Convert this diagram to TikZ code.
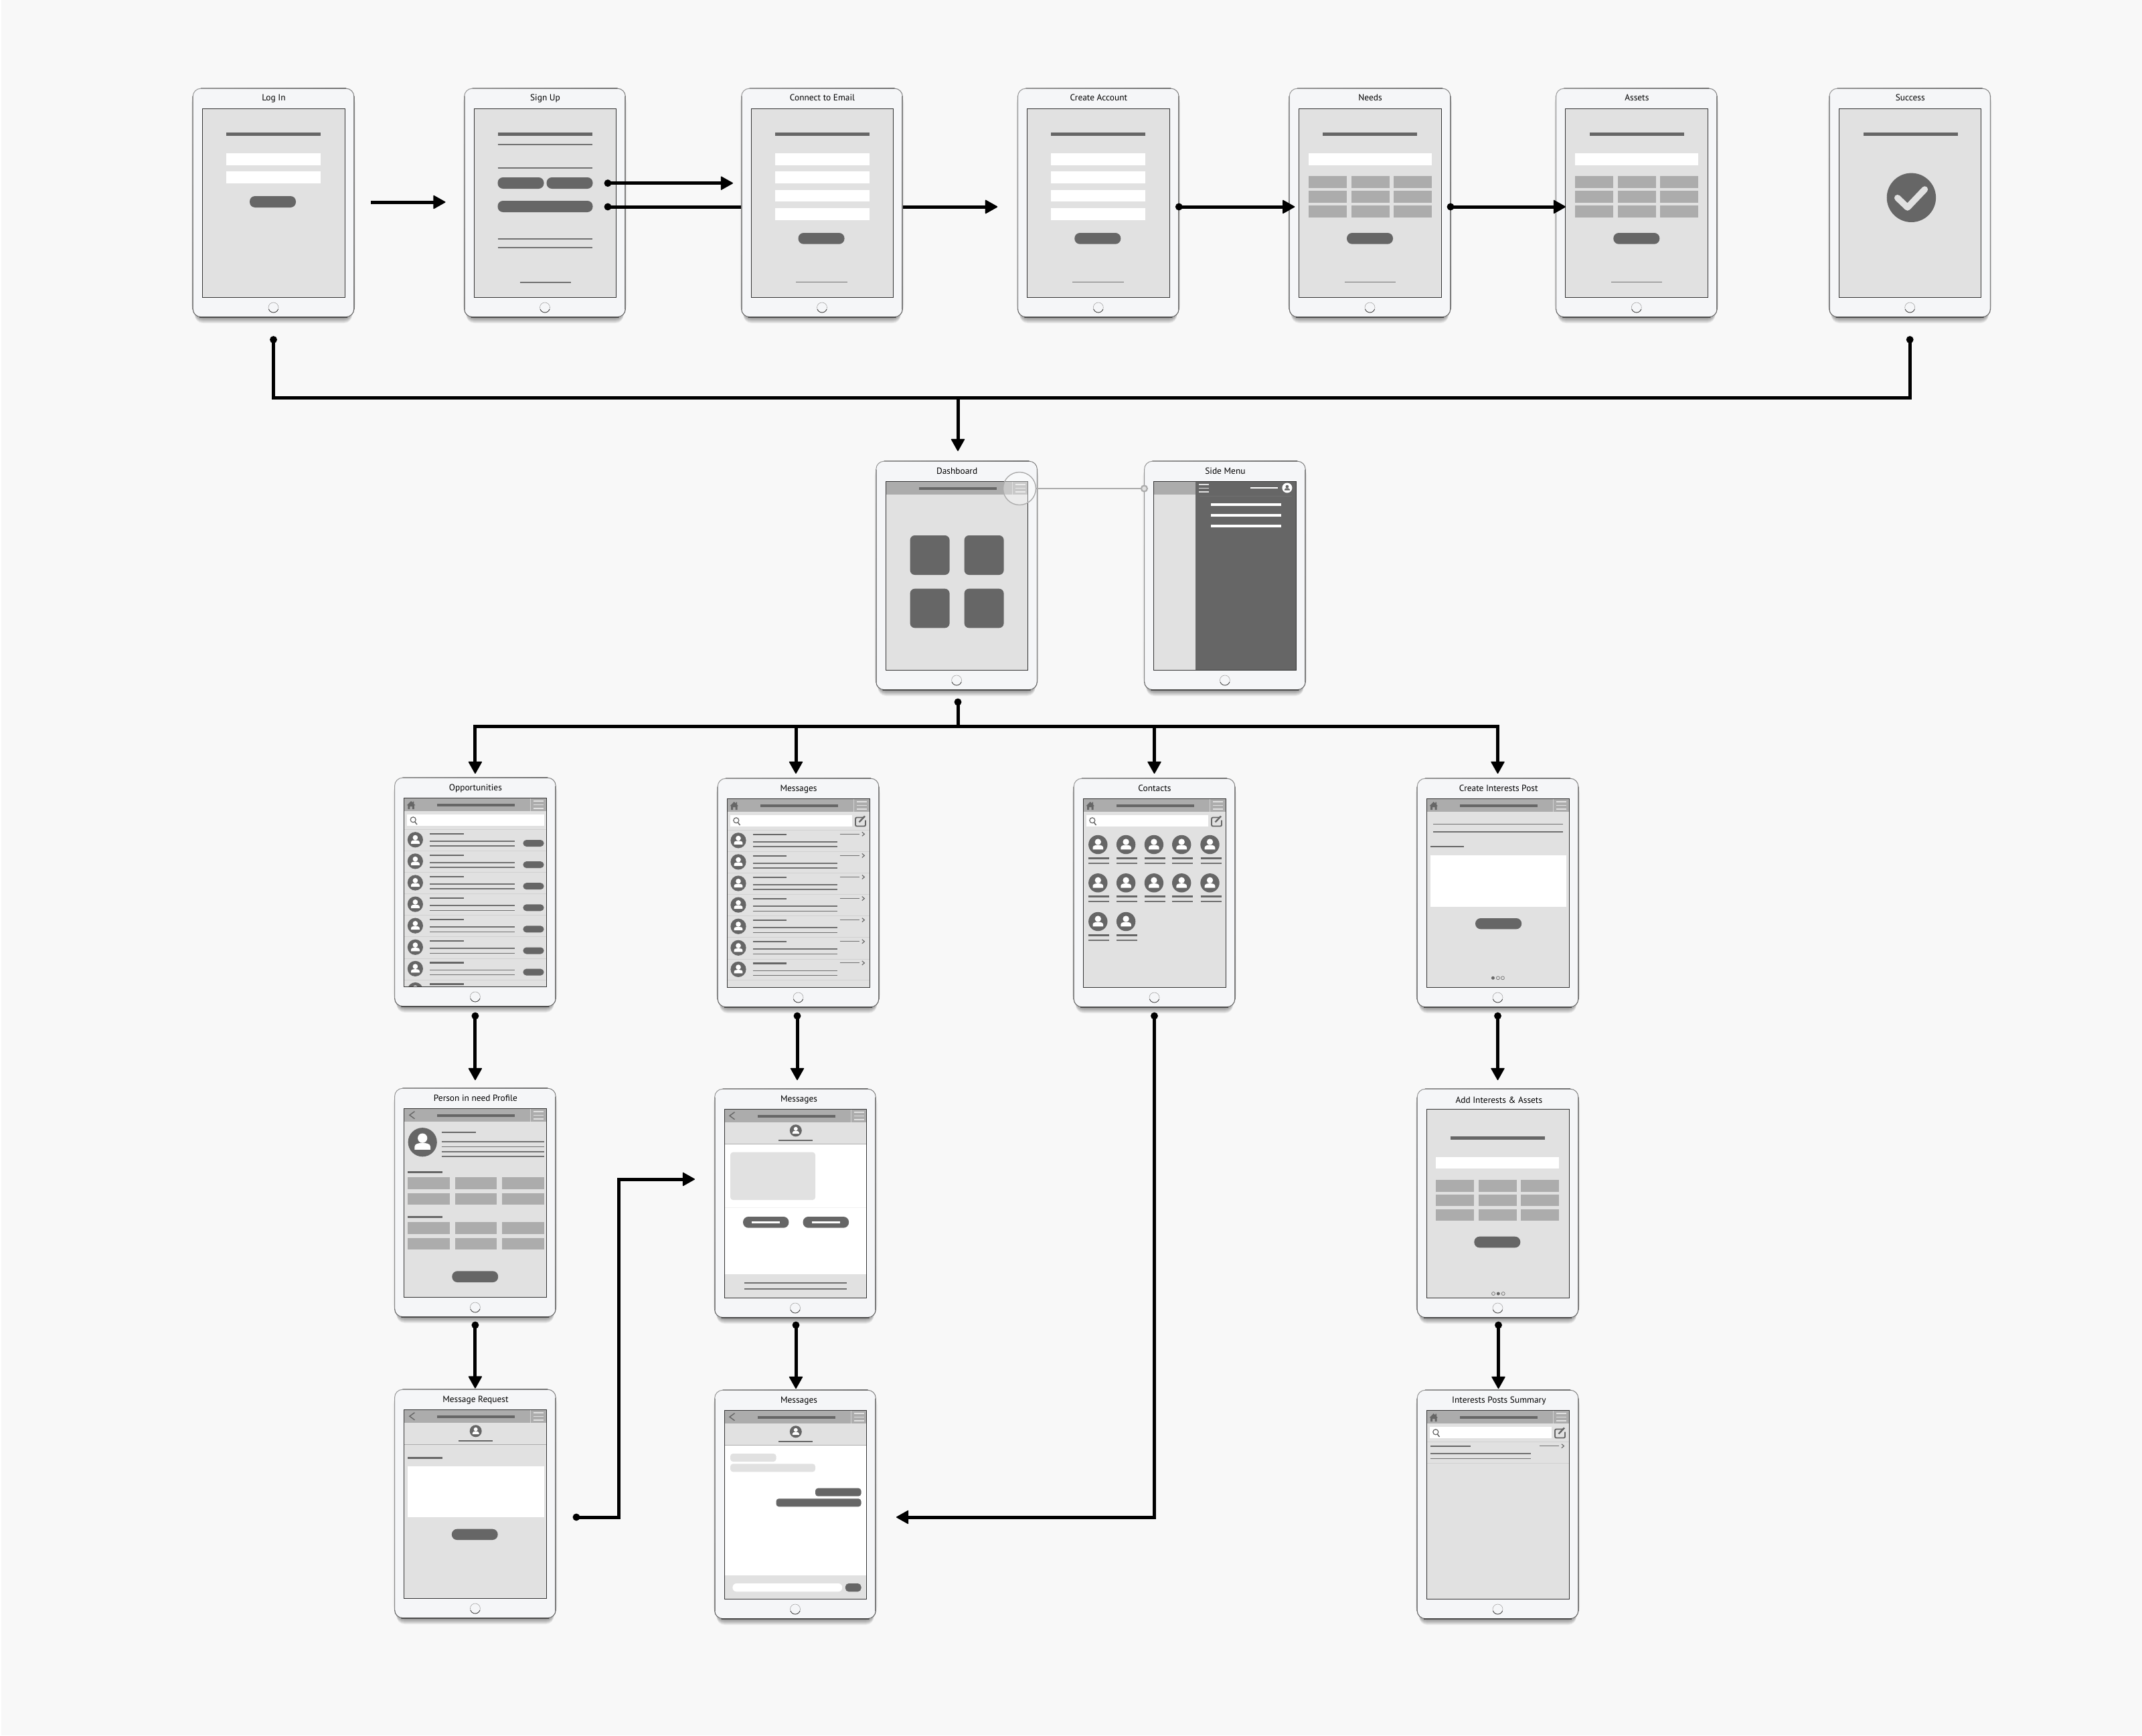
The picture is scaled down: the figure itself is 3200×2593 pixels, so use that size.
\documentclass[tikz,border=0pt]{standalone}
\usepackage{fontspec}
\setmainfont{PT Sans}
\usetikzlibrary{arrows.meta,calc}
\definecolor{bgc}{HTML}{F8F8F8}
\definecolor{dkc}{HTML}{666666}
\definecolor{midc}{HTML}{ACACAC}
\definecolor{ltc}{HTML}{E1E1E1}
\definecolor{bodyc}{HTML}{F5F6F8}
\definecolor{thinc}{HTML}{707070}
\tikzset{
  devbody/.style={draw=black!12,line width=.8pt,fill=bodyc,rounded corners=12pt,minimum width=241pt,minimum height=342pt,inner sep=0pt,outer sep=0pt},
  devtitle/.style={anchor=base,inner sep=0pt,font=\fontsize{13.4}{15}\selectfont,text=black},
  headtip/.tip={Triangle[length=19pt,width=21pt,line width=1.5pt,round]},
  dottip/.tip={Circle[length=10.5pt,width=10.5pt,sep=-5.25pt]},
  flow/.style={line width=5pt,black,-headtip},
  flowdot/.style={line width=5pt,black,dottip-headtip},
  dotboth/.style={line width=5pt,black,dottip-dottip},
  dotstart/.style={line width=5pt,black,dottip-},
  thick line/.style={line width=2.4pt,dkc},
  thin line/.style={line width=1.6pt,thinc},
  lens/.style={circle,draw=midc,line width=1.4pt,fill=white,fill opacity=.35,minimum size=49pt,inner sep=0pt,outer sep=0pt},
  lensdot/.style={circle,draw=midc,line width=2.2pt,fill=ltc,minimum size=9pt,inner sep=0pt,outer sep=0pt},
  lensline/.style={midc,line width=1.6pt}
}
\def\wtx{121}
% device: name, left, top, title, baseline, content
\newcommand\wdevice[6]{%
\begin{scope}[shift={(#2,#3)}]
  \foreach \k in {1,...,10}{\fill[black,opacity=.05,rounded corners=12pt] (3,12) rectangle (238,341+\k);}
  \fill[black,opacity=.06,rounded corners=12pt] (-2,10) rectangle (243,336);
  \node[devbody] (#1) at (120.5,171) {};
  \shade[top color=black!42,middle color=black!13,bottom color=black!48] (-.4,12) rectangle (.8,330);
  \shade[top color=black!48,middle color=black!20,bottom color=black!52] (240.2,12) rectangle (241.4,330);
  \shade[left color=black!42,middle color=black!5,right color=black!55] (12,-.4) rectangle (229,.7);
  \draw[black!42,line width=.9pt,rounded corners=12pt] (.2,12.5)--(.2,.2)--(12.5,.2);
  \draw[black!52,line width=.9pt,rounded corners=12pt] (228.5,.2)--(240.8,.2)--(240.8,12.5);
  \draw[black!60,line width=1.1pt,rounded corners=12pt] (.2,329.5)--(.2,341.7)--(240.8,341.7)--(240.8,329.5);
  \shade[left color=black!70,middle color=black!30,right color=black!70] (10,341.2) rectangle (231,342.4);
  \node[devtitle] (#1-title) at (\wtx,#5) {#4};
  \fill[ltc] (14.5,30) rectangle (227,312);
  \begin{scope}
    \clip (14.5,30) rectangle (227,312);
    #6
  \end{scope}
  \draw[black!80,line width=.9pt] (14.5,30) rectangle (227,312);
  \draw[black!35,line width=.6pt] (120.5,327.5) circle (7.5);
  \draw[black!75,line width=.8pt] (120.5,327.5) ++(20:7.5) arc (20:160:7.5);
\end{scope}}
\newcommand\wbx[5]{\fill[#5] (#1,#2) rectangle (#3,#4);}
\newcommand\wpl[4]{\fill[dkc,rounded corners=8pt] (#1,#2) rectangle (#3,#4);}
\newcommand\wplsm[4]{\fill[dkc,rounded corners=5pt] (#1,#2) rectangle (#3,#4);}
\newcommand\wthick[3]{\draw[thick line] (#1,#3)--(#2,#3);}
\newcommand\wthin[3]{\draw[thin line] (#1,#3)--(#2,#3);}
\newcommand\wavatar[3]{\begin{scope}[shift={(#1,#2)},scale=#3]
  \fill[dkc] (0,0) circle (1);
  \fill[white] (0,-.28) circle (.33);
  \fill[white] (-.55,.52)--(-.55,.32) .. controls (-.55,.1) and (-.25,.05) .. (0,.05) .. controls (.25,.05) and (.55,.1) .. (.55,.32)--(.55,.52)--cycle;
\end{scope}}
\newcommand\whdr{%
  \wbx{14.5}{30}{227}{50.3}{midc}
  \wbx{64}{38.7}{180}{42.7}{dkc}
  \draw[black!18,line width=.7pt] (203.4,30)--(203.4,50.3);
  \foreach \h in {35,40.3,45.7}{\draw[ltc,line width=1.6pt] (208,\h)--(223,\h);}
}
\newcommand\wmenuicon{\foreach \h in {35,40.3,45.7}{\draw[ltc,line width=1.6pt] (82,\h)--(97,\h);}}
\newcommand\whome{\fill[dkc] (24.7,35)--(27.3,37.6)--(27.3,35.6)--(29,35.6)--(29,39.3)--(31,41.3)--(29.5,41.3)--(29.5,47)--(26.5,47)--(26.5,43)--(23,43)--(23,47)--(20,47)--(20,41.3)--(18.5,41.3)--cycle;}
\newcommand\wback{\draw[dkc,line width=1.4pt] (30,34.7)--(22.5,40.2)--(30,45.7);}
\newcommand\wsearch[1]{%
  \wbx{19}{55}{#1}{72.3}{white}
  \draw[dkc,line width=1.2pt] (27.8,62.8) circle (4);
  \draw[dkc,line width=1.5pt] (30.4,66)--(33.5,70);
}
\newcommand\wedit{%
  \draw[dkc,line width=1.9pt,rounded corners=2pt] (217,58.5)--(206,58.5)--(206,71.5)--(221,71.5)--(221,62.5);
  \draw[dkc,line width=2.4pt] (211.5,65.5)--(220,56.5);
}
\newcommand\wchev[1]{%
  \draw[thinc,line width=1.1pt] (182.6,#1)--(212.4,#1);
  \draw[dkc,line width=1.1pt] (215.8,#1-3)--(219.4,#1)--(215.8,#1+3);
}
\newcommand\wlistrow[1]{%
  \wthick{52.9}{103.4}{#1+6.4}
  \wthin{52.9}{179.3}{#1+17.4}
  \wthin{52.9}{179.3}{#1+24.7}
  \wavatar{31}{#1+15.5}{11.6}
  \draw[black!18,line width=.8pt] (14.5,#1)--(227,#1);
}
\newcommand\wsub{%
  \wbx{14.5}{81.8}{227}{83}{midc}
  \wavatar{121.3}{62.3}{9}
  \wthick{95.8}{146.8}{76.7}
}
\begin{document}
\begin{tikzpicture}[x=1pt,y=-1pt]
\useasboundingbox (0,0) rectangle (3200,2593);
\fill[white] (0,0) rectangle (3200,2593);
\fill[bgc] (2,0) rectangle (3200,2593);

% ------- row 1
\wdevice{login}{288}{132}{Log In}{19}{
  \wbx{50}{66}{191}{71.5}{dkc}
  \wbx{50}{97}{191}{114.5}{white}
  \wbx{50}{124}{191}{142}{white}
  \wpl{85}{161}{154}{178}
}
\wdevice{signup}{693.5}{132}{Sign Up}{19}{
  \wbx{50}{66}{191}{71.5}{dkc}
  \wthin{50}{191}{84}
  \wthin{50}{191}{119}
  \wpl{50}{133}{119}{150}
  \wpl{123}{133}{192}{150}
  \wpl{50}{168}{192}{185}
  \wthin{50}{191}{225}
  \wthin{50}{191}{238}
  \wthin{83}{159}{290}
}
\wdevice{create}{1520.3}{132}{Create Account}{19}{
  \wbx{50}{66.3}{191}{71.3}{dkc}
  \wbx{50}{97}{191}{114.7}{white}
  \wbx{50}{124}{191}{141.7}{white}
  \wbx{50}{151.7}{191}{169}{white}
  \wbx{50}{179}{191}{196.7}{white}
  \wpl{85}{216}{154}{232.7}
  \wthin{81.7}{158.3}{289.3}
}
\wdevice{needs}{1926}{132}{Needs}{19}{
  \wbx{50.3}{66.3}{191.3}{71.3}{dkc}
  \wbx{29}{97}{213}{114.7}{white}
  \foreach \a/\b in {29/86,93/149.7,156/213}{
    \wbx{\a}{131.3}{\b}{149}{midc}
    \wbx{\a}{153.3}{\b}{170.7}{midc}
    \wbx{\a}{175.3}{\b}{192.7}{midc}
  }
  \wpl{86}{216}{155}{232.7}
  \wthin{82.7}{159}{289.3}
}
\wdevice{assets}{2324.3}{132}{Assets}{19}{
  \wbx{50.3}{66.3}{191.3}{71.3}{dkc}
  \wbx{29}{97}{213}{114.7}{white}
  \foreach \a/\b in {29/86,93/149.7,156/213}{
    \wbx{\a}{131.3}{\b}{149}{midc}
    \wbx{\a}{153.3}{\b}{170.7}{midc}
    \wbx{\a}{175.3}{\b}{192.7}{midc}
  }
  \wpl{86}{216}{155}{232.7}
  \wthin{82.7}{159}{289.3}
}
\wdevice{success}{2732.7}{132}{Success}{19}{
  \wbx{51}{66.3}{192}{71.3}{dkc}
  \fill[dkc] (122.7,163.3) circle (36.7);
  \draw[ltc,line width=9.5pt,line cap=round,line join=round] (102,163.7)--(117,178)--(142.7,151);
}

% lower Sign Up connector runs under the Connect to Email device
\draw[flowdot] ([xshift=-26.5pt,yshift=-6pt]signup.east) -- ([xshift=-30.3pt,yshift=-6pt]create.west);

\wdevice{connect}{1107.5}{132}{Connect to Email}{19}{
  \wbx{50}{66.3}{191}{71.3}{dkc}
  \wbx{50}{97}{191}{114.7}{white}
  \wbx{50}{124}{191}{141.7}{white}
  \wbx{50}{151.7}{191}{169}{white}
  \wbx{50}{179}{191}{196.7}{white}
  \wpl{85}{216}{154}{232.7}
  \wthin{81.7}{158.3}{289.3}
}

% ------- row 2
\wdevice{dash}{1308.6}{689}{Dashboard}{19.3}{
  \whdr
  \foreach \a/\b in {51/110,132/191}{
    \fill[dkc,rounded corners=7pt] (\a,111) rectangle (\b,170);
    \fill[dkc,rounded corners=7pt] (\a,190.7) rectangle (\b,249.3);
  }
}
\wdevice{side}{1709.4}{689}{Side Menu}{19.3}{
  \wbx{14.5}{30}{76.2}{50.3}{midc}
  \wbx{76.2}{30}{227}{312}{dkc}
  \wmenuicon
  \draw[white,line width=2pt] (159,39.7)--(199.7,39.7);
  \fill[white] (213.5,40) circle (7.5);
  \begin{scope}[shift={(213.5,40)},scale=7]
    \fill[dkc] (0,-.28) circle (.33);
    \fill[dkc] (-.55,.52)--(-.55,.32) .. controls (-.55,.1) and (-.25,.05) .. (0,.05) .. controls (.25,.05) and (.55,.1) .. (.55,.32)--(.55,.52)--cycle;
  \end{scope}
  \draw[thinc,line width=.9pt] (82.2,52.3)--(220.4,52.3);
  \foreach \h in {64.7,81,97.3}{\wbx{99.6}{\h-2}{204.3}{\h+2}{white}}
}
\node[lens] (lensbig) at (1523,730) {};
\node[lensdot] (lensend) at (1709.4,730) {};
\draw[lensline] (lensbig) -- (lensend);

% ------- row 3
\wdevice{opp}{589.4}{1162}{Opportunities}{19.5}{
  \whdr \whome
  \wsearch{223.2}
  \foreach \i in {0,...,7}{
    \pgfmathsetmacro\s{77.3+32.1*\i}
    \wlistrow{\s}
    \ifnum\i<7 \wplsm{192}{\s+15.7}{223.2}{\s+25.7}\fi
  }
}
\wdevice{msgone}{1072}{1163}{Messages}{19.5}{
  \whdr \whome
  \wsearch{200.6}
  \wedit
  \foreach \i in {0,...,6}{
    \pgfmathsetmacro\s{77.3+32.1*\i}
    \wlistrow{\s}
    \wchev{\s+6}
  }
  \draw[black!18,line width=.8pt] (14.5,301.3)--(227,301.3);
}
\wdevice{contacts}{1604}{1163}{Contacts}{19.5}{
  \whdr \whome
  \wsearch{201}
  \wedit
  \foreach \y/\cols in {99/{36.3,78.1,119.9,161.2,203.5},156.3/{36.3,78.1,119.9,161.2,203.5},214/{36.3,78.1}}{
    \foreach \c in \cols {
      \wavatar{\c}{\y}{14.2}
      \wthick{\c-14}{\c+17}{\y+20.3}
      \wthin{\c-14}{\c+17}{\y+27.7}
    }
  }
}
\def\wtx{121.7}
\wdevice{post}{2117}{1163}{Create Interests Post}{19.5}{
  \whdr \whome
  \wthin{24.4}{218}{68.3}
  \wthin{24.4}{218}{80}
  \wthick{19.9}{70}{102}
  \wbx{19.9}{115}{223.4}{192.3}{white}
  \wpl{87}{209}{156.2}{225.3}
  \fill[dkc] (113.4,298.3) circle (2.5);
  \draw[thinc,line width=.7pt] (120.9,298.3) circle (2.5) (127.9,298.3) circle (2.5);
}

% ------- row 4
\def\wtx{121}
\wdevice{person}{589.4}{1626}{Person in need Profile}{19.5}{
  \whdr \wback
  \wavatar{41.8}{80.7}{21.6}
  \wthick{70.3}{121.3}{66}
  \foreach \h in {80,87.3,94.7,102}{\wthin{70.3}{223.2}{\h}}
  \wthick{19.8}{71.3}{125.3}
  \wthick{19.8}{71.3}{192.3}
  \foreach \a/\b in {19.8/82.6,90.6/152.9,160.5/223.2}{
    \wbx{\a}{133.3}{\b}{151}{midc}
    \wbx{\a}{156.7}{\b}{174}{midc}
    \wbx{\a}{200.3}{\b}{218}{midc}
    \wbx{\a}{223.7}{\b}{241}{midc}
  }
  \wpl{85.9}{273.3}{154.8}{290}
}
\def\wtx{126}
\wdevice{msgtwo}{1067.5}{1627}{Messages}{19}{
  \wbx{14.5}{83}{227}{276.7}{white}
  \whdr \wback
  \wsub
  \fill[ltc,rounded corners=4pt] (23.6,94.7) rectangle (150.5,166);
  \draw[black!6,line width=.8pt] (14.5,177)--(227,177);
  \wpl{42.5}{191}{110.9}{207.7}
  \wpl{132}{191}{200.6}{207.7}
  \wbx{55.7}{197.8}{97.7}{200.8}{white}
  \wbx{145.4}{197.8}{187.4}{200.8}{white}
  \wthin{44.4}{197.3}{290}
  \wthin{44.4}{197.3}{299}
}
\def\wtx{122.3}
\wdevice{addint}{2117}{1627}{Add Interests \& Assets}{21.5}{
  \wbx{49.7}{71}{190.7}{76}{dkc}
  \wbx{28.3}{101.7}{212.3}{119.3}{white}
  \foreach \a/\b in {28.3/85.3,92.3/149,155.3/212.3}{
    \wbx{\a}{136}{\b}{153.7}{midc}
    \wbx{\a}{158}{\b}{175.3}{midc}
    \wbx{\a}{180}{\b}{197.3}{midc}
  }
  \wpl{85.3}{220.7}{154.3}{237.3}
  \fill[dkc] (121.3,306) circle (2.5);
  \draw[thinc,line width=.7pt] (114,306) circle (2.5) (128.7,306) circle (2.5);
}

% ------- row 5
\def\wtx{121}
\wdevice{msgreq}{589.4}{2076}{Message Request}{19.5}{
  \whdr \wback
  \wsub
  \wthick{19.8}{71.3}{102.3}
  \wbx{19.8}{115}{223.7}{191}{white}
  \wpl{85.4}{208.7}{154.3}{225}
}
\def\wtx{126}
\wdevice{msgthree}{1067.5}{2077}{Messages}{19}{
  \wbx{14.5}{83}{227}{276.7}{white}
  \whdr \wback
  \wsub
  \fill[ltc,rounded corners=4pt] (23.6,95) rectangle (92,107);
  \fill[ltc,rounded corners=4pt] (23.6,110.3) rectangle (150.5,122.3);
  \fill[dkc,rounded corners=4pt] (150.5,146.7) rectangle (219,158.7);
  \fill[dkc,rounded corners=4pt] (92,162.3) rectangle (219,174.3);
  \fill[white,rounded corners=6pt] (26.9,289) rectangle (190.7,301.3);
  \fill[dkc,rounded corners=5pt] (195.4,289) rectangle (219,301.3);
}
\def\wtx{122.3}
\wdevice{summary}{2117}{2077}{Interests Posts Summary}{19}{
  \whdr \whome
  \wsearch{201.3}
  \wedit
  \draw[black!18,line width=.8pt] (14.5,77)--(227,77) (14.5,109.3)--(227,109.3);
  \wthick{20}{80}{84}
  \wthin{20}{170.3}{95}
  \wthin{20}{170.3}{102.3}
  \wchev{83.7}
}

% ------- connectors
\draw[flow] ([xshift=25pt,yshift=1pt]login.east) -- ([xshift=-28pt,yshift=1pt]signup.west);
\draw[flowdot] ([xshift=-26.5pt,yshift=29.3pt]signup.east) -- ([xshift=-12.5pt,yshift=29.3pt]connect.west);
\draw[flow] ([xshift=1.5pt,yshift=-6pt]connect.east) -- ([xshift=-30.3pt,yshift=-6pt]create.west);
\draw[flowdot] ([yshift=-6pt]create.east) -- ([xshift=8.3pt,yshift=-6pt]needs.west);
\draw[flowdot] ([yshift=-6pt]needs.east) -- ([xshift=14.7pt,yshift=-6pt]assets.west);

\coordinate (hubtop) at (1431,594);
\draw[dotboth] ([yshift=-33.5pt]login.south) |- (hubtop) -| ([yshift=-33.5pt]success.south);
\draw[flow] (hubtop) -- ([yshift=15pt]hubtop |- dash.north);

\coordinate (hubmid) at (1431,1085);
\draw[dotstart] ([xshift=1.9pt,yshift=-18pt]dash.south) -- (hubmid);
\draw[flow] (hubmid) -| ([yshift=6pt]opp.north);
\draw[flow] (hubmid) -| ([xshift=-3.5pt,yshift=7pt]msgone.north);
\draw[flow] (hubmid) -| ([yshift=7pt]contacts.north);
\draw[flow] (hubmid) -| ([yshift=7pt]post.north);

\draw[flowdot] ([yshift=-14pt]opp.south) -- ([yshift=12pt]person.north);
\draw[flowdot] ([xshift=-1.5pt,yshift=-13pt]msgone.south) -- ([xshift=3pt,yshift=13pt]msgtwo.north);
\draw[flowdot] ([yshift=-13pt]contacts.south) |- ([xshift=30.5pt,yshift=-19pt]msgthree.east);
\draw[flowdot] ([yshift=-13pt]post.south) -- ([yshift=13pt]addint.north);
\draw[flowdot] ([yshift=-12pt]person.south) -- ([yshift=1.5pt]msgreq.north);
\draw[flowdot] ([xshift=1pt,yshift=-11pt]msgtwo.south) -- ([xshift=1pt,yshift=2pt]msgthree.north);
\draw[flowdot] ([xshift=1pt,yshift=-11pt]addint.south) -- ([xshift=1pt,yshift=2pt]summary.north);

\coordinate (bend) at (924.5,2267);
\draw[flowdot] ([xshift=30.6pt,yshift=-20pt]msgreq.east) -- (bend) |- ([xshift=-29.5pt,yshift=36pt]msgtwo.west);
\end{tikzpicture}
\end{document}
